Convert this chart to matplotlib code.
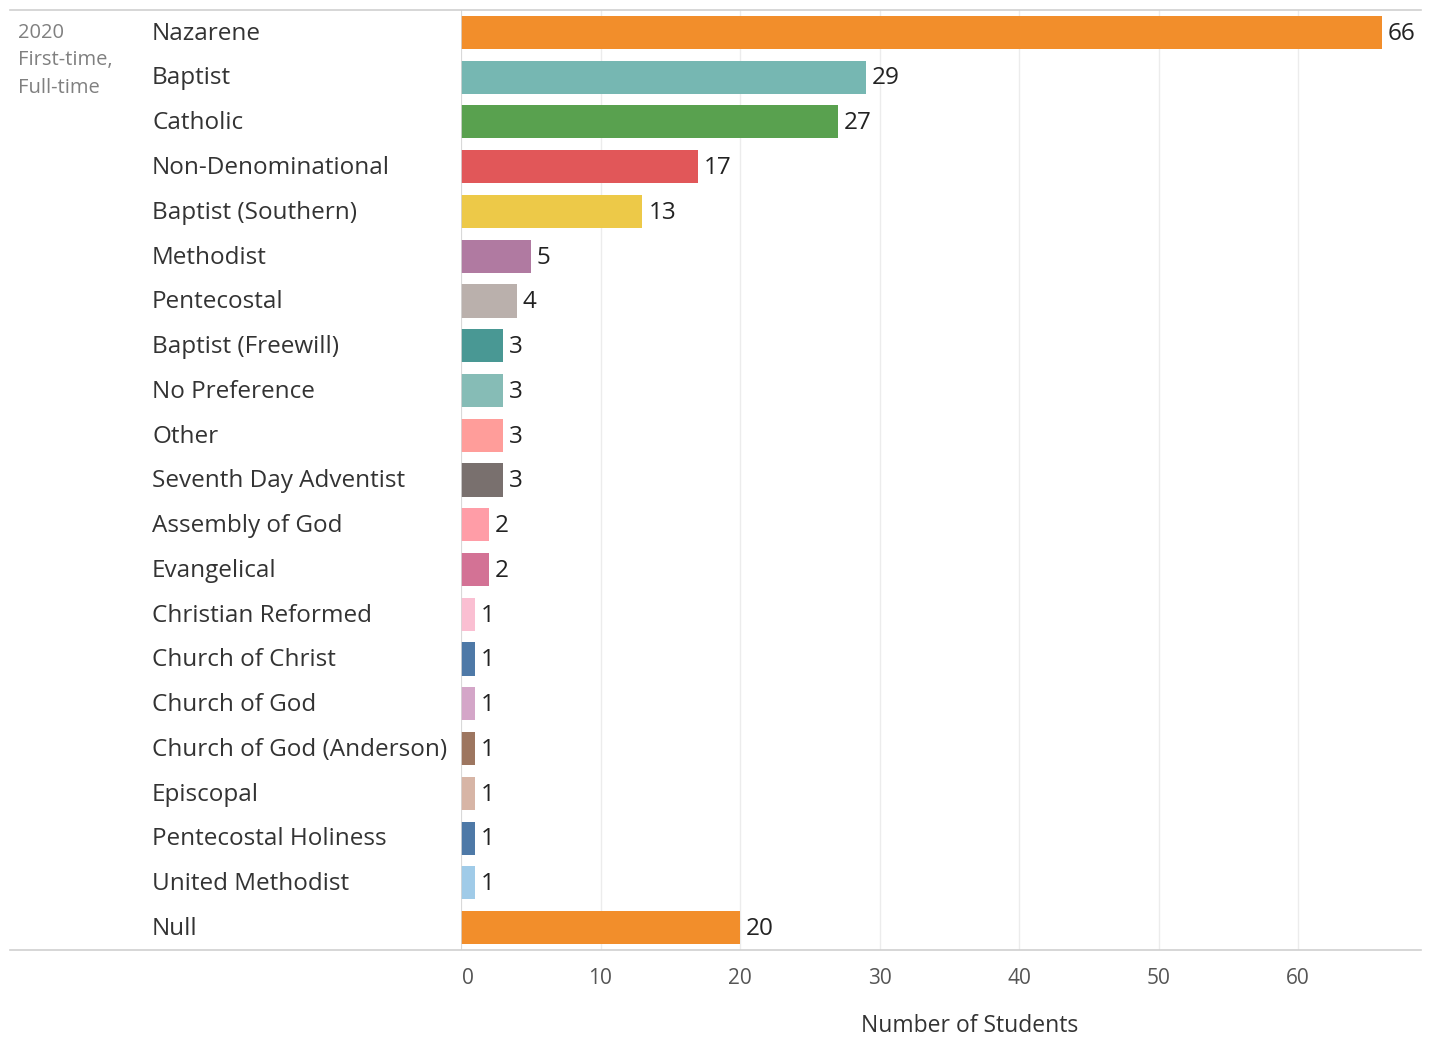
import matplotlib.pyplot as plt
import matplotlib.transforms as mtrans
import numpy as np

categories = ["Nazarene", "Baptist", "Catholic", "Non-Denominational", "Baptist (Southern)",
              "Methodist", "Pentecostal", "Baptist (Freewill)", "No Preference", "Other",
              "Seventh Day Adventist", "Assembly of God", "Evangelical", "Christian Reformed",
              "Church of Christ", "Church of God", "Church of God (Anderson)", "Episcopal",
              "Pentecostal Holiness", "United Methodist", "Null"]
students = [66, 29, 27, 17, 13, 5, 4, 3, 3, 3, 3, 2, 2, 1, 1, 1, 1, 1, 1, 1, 20]
colors = ["#F28E2B", "#76B7B2", "#59A14F", "#E15759", "#EDC948", "#B07AA1", "#BAB0AC",
          "#499894", "#86BCB6", "#FF9D9A", "#79706E", "#FF9DA7", "#D37295", "#FABFD2",
          "#4E79A7", "#D4A6C8", "#9D7660", "#D7B5A6", "#4E79A7", "#A0CBE8", "#F28E2B"]
xticks = [0, 10, 20, 30, 40, 50, 60]

plt.rcParams['font.family'] = ['Open Sans', 'DejaVu Sans']

fig = plt.figure(figsize=(14.39, 10.39), dpi=100)
ax = fig.add_axes([461 / 1439, 1 - 950 / 1039, 960 / 1439, 940 / 1039])
px = 13.95  # pixels per student

y = np.arange(len(categories))
ax.barh(y, students, height=0.74, color=colors, zorder=3)
for yi, v in zip(y, students):
    ax.text(v + 6 / px, yi + 0.03, str(v), va='center', ha='left', fontsize=17.5, color='#222222')

ax.set_ylim(len(categories) - 0.5, -0.5)
ax.set_xlim(0, 960 / px)
ax.set_yticks([])
ax.set_xticks(xticks)
ax.set_xticklabels([str(t) for t in xticks], fontsize=15, color='#555555')
ax.tick_params(axis='x', length=0, pad=13)
# tableau nudges the zero label inside the pane
zero = ax.get_xticklabels()[0]
zero.set_transform(zero.get_transform() + mtrans.ScaledTranslation(7 / 100, 0, fig.dpi_scale_trans))

ax.grid(axis='x', color='#ececec', linewidth=1, zorder=0)
for s in ['top', 'right', 'left', 'bottom']:
    ax.spines[s].set_visible(False)
ax.axvline(0, color='#d6d6d6', linewidth=1.2, zorder=4)

ax.set_xlabel("Number of Students", fontsize=16.5, color='#333333', va='center')
ax.xaxis.set_label_coords((970 - 461) / 960, -76 / 940)

# full width header/footer rules
fig.add_artist(plt.Line2D([10 / 1439, 1421 / 1439], [1 - 10 / 1039, 1 - 10 / 1039],
                          color='#d0d0d0', linewidth=1.2))
fig.add_artist(plt.Line2D([10 / 1439, 1421 / 1439], [1 - 950 / 1039, 1 - 950 / 1039],
                          color='#d0d0d0', linewidth=1.2))

for yi, name in zip(y, categories):
    ax.text(-309 / px, yi + 0.03, name, va='center', ha='left', fontsize=17.5, color='#333333')

fig.text(18 / 1439, 1 - 23 / 1039, "2020\nFirst-time,\nFull-time", va='top', ha='left',
         fontsize=14.5, color='#808080', linespacing=1.5)

fig.savefig("out.png", dpi=100)
